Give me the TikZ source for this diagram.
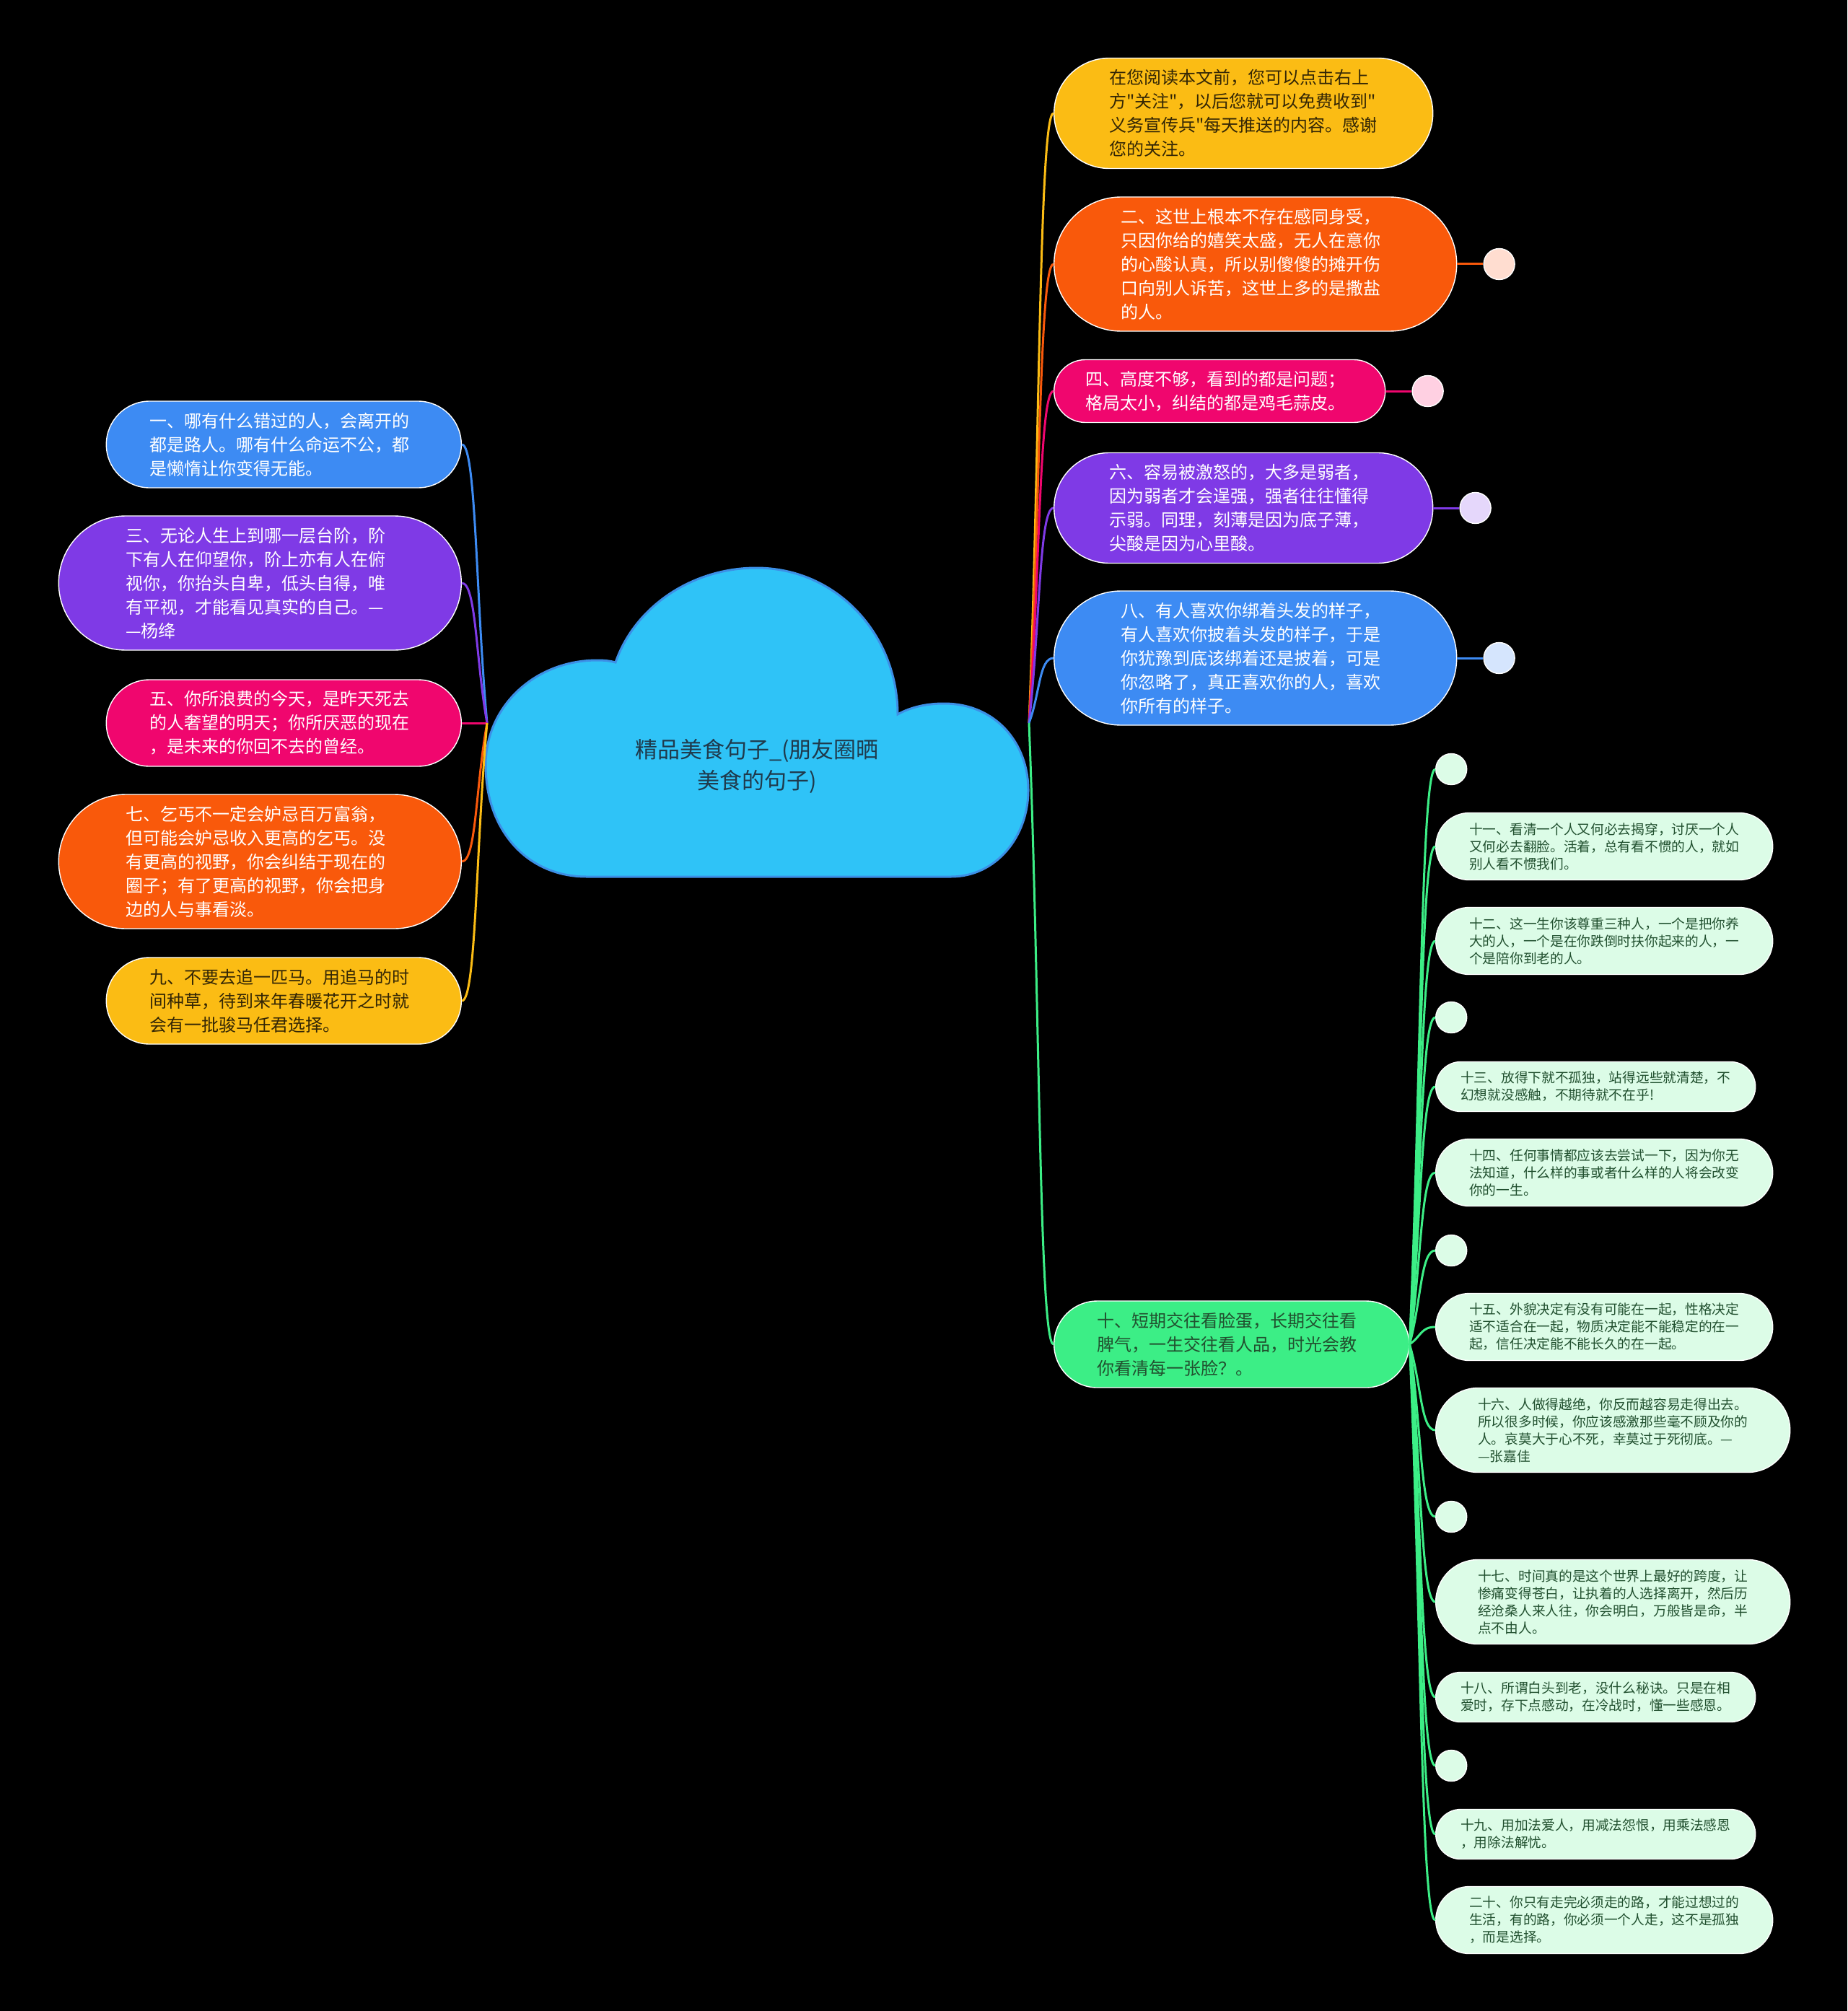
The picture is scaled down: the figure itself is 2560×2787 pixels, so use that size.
\documentclass[tikz,border=0pt]{standalone}
\usepackage{fontspec}
\setmainfont{Noto Sans CJK SC}[Ligatures=TeXOff]
\usepackage{tikz}
\usetikzlibrary{positioning,calc}
\definecolor{cloudfill}{RGB}{47,195,247}
\definecolor{cloudline}{RGB}{60,143,230}
\definecolor{cloudtext}{RGB}{31,58,76}
\definecolor{mblue}{RGB}{61,139,243}
\definecolor{mpurple}{RGB}{127,58,230}
\definecolor{mpink}{RGB}{240,6,110}
\definecolor{morange}{RGB}{249,89,11}
\definecolor{myellow}{RGB}{251,188,20}
\definecolor{mgreen}{RGB}{60,238,134}
\definecolor{leafgreen}{RGB}{220,252,231}
\definecolor{leaftext}{RGB}{33,80,47}
\definecolor{darktext}{RGB}{51,38,5}
\definecolor{dotpeach}{RGB}{255,221,208}
\definecolor{dotpink}{RGB}{255,208,226}
\definecolor{dotlav}{RGB}{229,215,251}
\definecolor{dotblue}{RGB}{213,229,253}

\begin{document}
\begin{tikzpicture}[x=0.5pt, y=-0.5pt,
    topic/.style={rectangle, draw=white, line width=0.7pt,
                  text width=186pt, align=left, minimum height=2*#1,
                  inner xsep=#1, inner ysep=0pt, rounded corners=#1,
                  font=\fontsize{12pt}{16.5pt}\selectfont, text=white},
    leaf/.style={rectangle, draw=white, line width=0.7pt, fill=leafgreen,
                 text width=187pt, align=left, minimum height=2*#1,
                 inner xsep=#1, inner ysep=0pt, rounded corners=#1,
                 font=\fontsize{9.35pt}{12pt}\selectfont, text=leaftext},
    bubble/.style={circle, draw=white, line width=0.7pt, minimum size=21.5pt, inner sep=0pt},
    link/.style={line width=1.5pt},
    linkR/.style={link, to path={.. controls ($(\tikztostart)!0.45!(\tikztotarget)$)
                  and ([xshift=-10pt]\tikztotarget) .. (\tikztotarget)}},
    linkL/.style={link, to path={.. controls ($(\tikztostart)!0.45!(\tikztotarget)$)
                  and ([xshift=10pt]\tikztotarget) .. (\tikztotarget)}}]

  % background
  \fill[black] (0,0) rectangle (2560,2787);

  % central cloud
  \filldraw[fill=cloudfill, draw=cloudline, line width=1.5pt]
    (813,1215) .. controls (730,1215) and (673,1150) .. (673,1060)
    .. controls (673,980) and (740,915) .. (828,915)
    .. controls (838,915) and (846,916) .. (853,918)
    .. controls (880,840) and (960,787) .. (1048,787)
    .. controls (1160,787) and (1244,880) .. (1244,990)
    .. controls (1262,980) and (1284,975) .. (1308,975)
    .. controls (1380,975) and (1425,1030) .. (1425,1095)
    .. controls (1425,1160) and (1380,1215) .. (1318,1215) -- cycle;
  \node[font=\fontsize{15.5pt}{21.5pt}\selectfont, text=cloudtext, align=center]
    (root) at (1049,1062) {精品美食句子\_(朋友圈晒\\美食的句子)};
  \coordinate (hubL) at (675,1002);
  \coordinate (hubR) at (1426,1002);

  % right branches
  \node[topic=38.25pt, fill=myellow, text=darktext, anchor=west] (n0) at (1460,157)
    {在您阅读本文前，您可以点击右上\\方"关注"，以后您就可以免费收到"\\义务宣传兵"每天推送的内容。感谢\\您的关注。};
  \node[topic=46.5pt, fill=morange, anchor=west] (n2) at (1460,366)
    {二、这世上根本不存在感同身受，\\只因你给的嬉笑太盛，无人在意你\\的心酸认真，所以别傻傻的摊开伤\\口向别人诉苦，这世上多的是撒盐\\的人。};
  \node[topic=21.75pt, fill=mpink, anchor=west] (n4) at (1460,542)
    {四、高度不够，看到的都是问题；\\格局太小，纠结的都是鸡毛蒜皮。};
  \node[topic=38.25pt, fill=mpurple, anchor=west] (n6) at (1460,704)
    {六、容易被激怒的，大多是弱者，\\因为弱者才会逞强，强者往往懂得\\示弱。同理，刻薄是因为底子薄，\\尖酸是因为心里酸。};
  \node[topic=46.5pt, fill=mblue, anchor=west] (n8) at (1460,912)
    {八、有人喜欢你绑着头发的样子，\\有人喜欢你披着头发的样子，于是\\你犹豫到底该绑着还是披着，可是\\你忽略了，真正喜欢你的人，喜欢\\你所有的样子。};
  \node[topic=30pt, fill=mgreen, text=leaftext, anchor=west] (n10) at (1460,1863)
    {十、短期交往看脸蛋，长期交往看\\脾气，一生交往看人品，时光会教\\你看清每一张脸？。};

  \node[bubble, fill=dotpeach, right=18pt of n2] (d2) {};
  \node[bubble, fill=dotpink, right=18pt of n4] (d4) {};
  \node[bubble, fill=dotlav, right=18pt of n6] (d6) {};
  \node[bubble, fill=dotblue, right=18pt of n8] (d8) {};

  % left branches
  \node[topic=30pt, fill=mblue, anchor=east] (n1) at (640,616)
    {一、哪有什么错过的人，会离开的\\都是路人。哪有什么命运不公，都\\是懒惰让你变得无能。};
  \node[topic=46.5pt, fill=mpurple, anchor=east] (n3) at (640,808)
    {三、无论人生上到哪一层台阶，阶\\下有人在仰望你，阶上亦有人在俯\\视你，你抬头自卑，低头自得，唯\\有平视，才能看见真实的自己。—\\—杨绛};
  \node[topic=30pt, fill=mpink, anchor=east] (n5) at (640,1002)
    {五、你所浪费的今天，是昨天死去\\的人奢望的明天；你所厌恶的现在\\，是未来的你回不去的曾经。};
  \node[topic=46.5pt, fill=morange, anchor=east] (n7) at (640,1194)
    {七、乞丐不一定会妒忌百万富翁，\\但可能会妒忌收入更高的乞丐。没\\有更高的视野，你会纠结于现在的\\圈子；有了更高的视野，你会把身\\边的人与事看淡。};
  \node[topic=30pt, fill=myellow, text=darktext, anchor=east] (n9) at (640,1387)
    {九、不要去追一匹马。用追马的时\\间种草，待到来年春暖花开之时就\\会有一批骏马任君选择。};

  % leaves of 十
  \node[bubble, fill=leafgreen, anchor=west] (e1) at (1989,1066) {};
  \node[leaf=23.25pt, anchor=west] (c11) at (1989,1173)
    {十一、看清一个人又何必去揭穿，讨厌一个人\\又何必去翻脸。活着，总有看不惯的人，就如\\别人看不惯我们。};
  \node[leaf=23.25pt, anchor=west] (c12) at (1989,1304)
    {十二、这一生你该尊重三种人，一个是把你养\\大的人，一个是在你跌倒时扶你起来的人，一\\个是陪你到老的人。};
  \node[bubble, fill=leafgreen, anchor=west] (e2) at (1989,1410) {};
  \node[leaf=17.25pt, anchor=west] (c13) at (1989,1506)
    {十三、放得下就不孤独，站得远些就清楚，不\\幻想就没感触，不期待就不在乎!};
  \node[leaf=23.25pt, anchor=west] (c14) at (1989,1625)
    {十四、任何事情都应该去尝试一下，因为你无\\法知道，什么样的事或者什么样的人将会改变\\你的一生。};
  \node[bubble, fill=leafgreen, anchor=west] (e3) at (1989,1733) {};
  \node[leaf=23.25pt, anchor=west] (c15) at (1989,1839)
    {十五、外貌决定有没有可能在一起，性格决定\\适不适合在一起，物质决定能不能稳定的在一\\起，信任决定能不能长久的在一起。};
  \node[leaf=29.25pt, anchor=west] (c16) at (1989,1982)
    {十六、人做得越绝，你反而越容易走得出去。\\所以很多时候，你应该感激那些毫不顾及你的\\人。哀莫大于心不死，幸莫过于死彻底。—\\—张嘉佳};
  \node[bubble, fill=leafgreen, anchor=west] (e4) at (1989,2102) {};
  \node[leaf=29.25pt, anchor=west] (c17) at (1989,2220)
    {十七、时间真的是这个世界上最好的跨度，让\\惨痛变得苍白，让执着的人选择离开，然后历\\经沧桑人来人往，你会明白，万般皆是命，半\\点不由人。};
  \node[leaf=17.25pt, anchor=west] (c18) at (1989,2352)
    {十八、所谓白头到老，没什么秘诀。只是在相\\爱时，存下点感动，在冷战时，懂一些感恩。};
  \node[bubble, fill=leafgreen, anchor=west] (e5) at (1989,2447) {};
  \node[leaf=17.25pt, anchor=west] (c19) at (1989,2542)
    {十九、用加法爱人，用减法怨恨，用乘法感恩\\，用除法解忧。};
  \node[leaf=23.25pt, anchor=west] (c20) at (1989,2661)
    {二十、你只有走完必须走的路，才能过想过的\\生活，有的路，你必须一个人走，这不是孤独\\，而是选择。};

  % connectors
  \foreach \n/\c in {n0/myellow, n2/morange, n4/mpink, n6/mpurple, n8/mblue, n10/mgreen}
    \draw[linkR, \c] (hubR) to (\n.west);
  \foreach \n/\c in {n1/mblue, n3/mpurple, n5/mpink, n7/morange, n9/myellow}
    \draw[linkL, \c] (hubL) to (\n.east);
  \foreach \n in {e1,c11,c12,e2,c13,c14,e3,c15,c16,e4,c17,c18,e5,c19,c20}
    \draw[linkR, mgreen] (n10.east) to (\n.west);
  \foreach \n/\d/\c in {n2/d2/morange, n4/d4/mpink, n6/d6/mpurple, n8/d8/mblue}
    \draw[link, \c] (\n.east) -- (\d.west);
\end{tikzpicture}
\end{document}
